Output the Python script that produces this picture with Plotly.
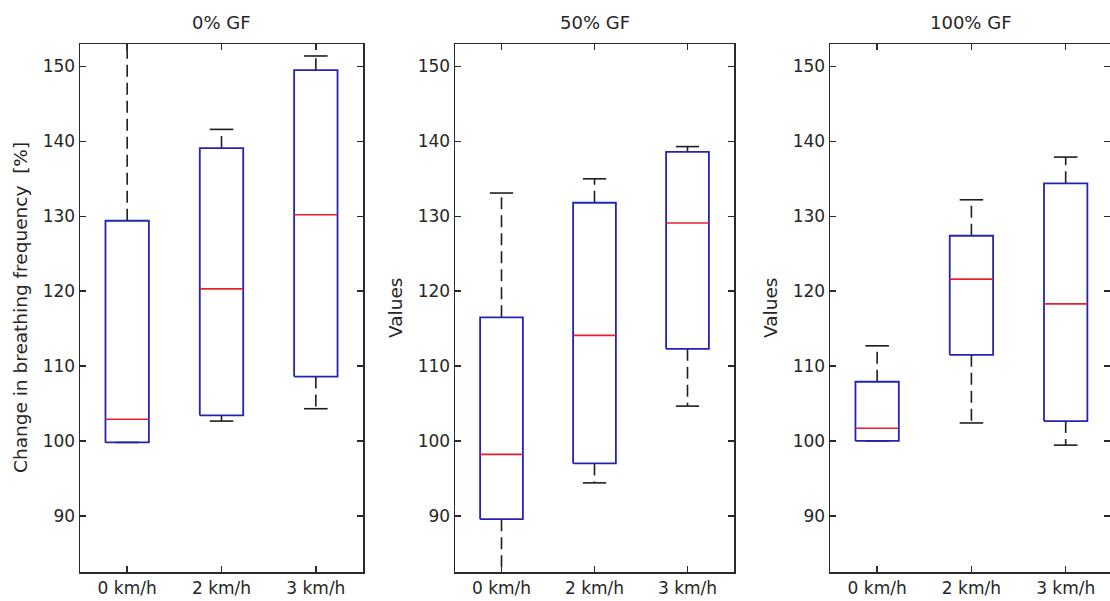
import plotly.graph_objects as go

# ---- data ----
categories = ["0 km/h", "2 km/h", "3 km/h"]
panel_titles = ["0% GF", "50% GF", "100% GF"]
y_titles = ["Change in breathing frequency  [%]", "Values", "Values"]

# 0% GF
gf0_lower = [99.8, 102.65, 104.3]
gf0_q1 = [99.8, 103.4, 108.6]
gf0_median = [102.9, 120.3, 130.2]
gf0_q3 = [129.4, 139.1, 149.5]
gf0_upper = [158.0, 141.6, 151.4]

# 50% GF
gf50_lower = [80.0, 94.4, 104.65]
gf50_q1 = [89.55, 97.0, 112.3]
gf50_median = [98.2, 114.1, 129.1]
gf50_q3 = [116.5, 131.8, 138.6]
gf50_upper = [133.1, 135.0, 139.3]

# 100% GF
gf100_lower = [100.0, 102.4, 99.44]
gf100_q1 = [100.0, 111.5, 102.65]
gf100_median = [101.7, 121.6, 118.3]
gf100_q3 = [107.9, 127.4, 134.4]
gf100_upper = [112.7, 132.2, 137.9]

y_tickvals = [90, 100, 110, 120, 130, 140, 150]

panels = [
    (gf0_lower, gf0_q1, gf0_median, gf0_q3, gf0_upper),
    (gf50_lower, gf50_q1, gf50_median, gf50_q3, gf50_upper),
    (gf100_lower, gf100_q1, gf100_median, gf100_q3, gf100_upper),
]

# ---- styling ----
W, H = 1110, 601
ML, MR, MT, MB = 0, 0, 44, 29
PLOT_H = H - MT - MB
BOX_HW = 0.23
CAP_HW = 0.125
BLUE = "#2424b4"
RED = "#e8202a"
BLACK = "#1e1e1e"
AXIS = "#2a2a2a"
TXT = "#262626"
FONT = "DejaVu Sans"
FS = 17
FS_LABEL = 18.5

domains_px = [(80, 363), (455, 734), (830, 1110)]
x_ranges = [[0.5, 3.5], [0.5, 3.5], [0.5, 3.47]]
y_range = [82.5, 153.0]

fig = go.Figure()

for p, (lo, q1, med, q3, up) in enumerate(panels):
    xa = "x" if p == 0 else f"x{p+1}"
    ya = "y" if p == 0 else f"y{p+1}"
    wx, wy, cx, cy, bx, by, mx, my = [], [], [], [], [], [], [], []
    for i in range(len(categories)):
        x = i + 1
        wx += [x, x, None, x, x, None]
        wy += [q3[i], up[i], None, q1[i], lo[i], None]
        cx += [x - CAP_HW, x + CAP_HW, None, x - CAP_HW, x + CAP_HW, None]
        cy += [up[i], up[i], None, lo[i], lo[i], None]
        bx += [x - BOX_HW, x + BOX_HW, x + BOX_HW, x - BOX_HW, x - BOX_HW, None]
        by += [q1[i], q1[i], q3[i], q3[i], q1[i], None]
        mx += [x - BOX_HW, x + BOX_HW, None]
        my += [med[i], med[i], None]
    fig.add_trace(go.Scatter(x=wx, y=wy, mode="lines", xaxis=xa, yaxis=ya,
                             line=dict(color=BLACK, width=1.6, dash="12px,6px"),
                             hoverinfo="skip", showlegend=False))
    fig.add_trace(go.Scatter(x=cx, y=cy, mode="lines", xaxis=xa, yaxis=ya,
                             line=dict(color=BLACK, width=1.6),
                             hoverinfo="skip", showlegend=False))
    fig.add_trace(go.Scatter(x=bx, y=by, mode="lines", xaxis=xa, yaxis=ya,
                             line=dict(color=BLUE, width=1.8),
                             hoverinfo="skip", showlegend=False))
    fig.add_trace(go.Scatter(x=mx, y=my, mode="lines", xaxis=xa, yaxis=ya,
                             line=dict(color=RED, width=1.6),
                             hoverinfo="skip", showlegend=False))

layout = dict(
    width=W, height=H, autosize=False,
    margin=dict(l=ML, r=MR, t=MT, b=MB, pad=0),
    paper_bgcolor="white", plot_bgcolor="white",
    font=dict(family=FONT, size=FS, color=TXT),
    showlegend=False,
)

for p in range(3):
    d0, d1 = domains_px[p]
    xkey = "xaxis" if p == 0 else f"xaxis{p+1}"
    ykey = "yaxis" if p == 0 else f"yaxis{p+1}"
    yanchor = "y" if p == 0 else f"y{p+1}"
    xanchor = "x" if p == 0 else f"x{p+1}"
    layout[xkey] = dict(
        domain=[d0 / W, d1 / W], anchor=yanchor, range=x_ranges[p],
        tickmode="array", tickvals=[1, 2, 3], ticktext=categories,
        ticks="inside", ticklen=6, tickwidth=1.5, tickcolor=AXIS,
        showline=True, linecolor=AXIS, linewidth=1.5, mirror="ticks",
        showgrid=False, zeroline=False, fixedrange=True,
        tickfont=dict(family=FONT, size=FS, color=TXT),
    )
    layout[ykey] = dict(
        domain=[0, 1], anchor=xanchor, range=y_range,
        tickmode="array", tickvals=y_tickvals,
        ticks="inside", ticklen=6, tickwidth=1.5, tickcolor=AXIS,
        showline=True, linecolor=AXIS, linewidth=1.5,
        mirror=("ticks" if p < 2 else False),
        showgrid=False, zeroline=False, fixedrange=True,
        tickfont=dict(family=FONT, size=FS, color=TXT),
    )

# right-side ticks (no spine) for the cropped third panel
layout["yaxis4"] = dict(
    overlaying="y3", side="right", anchor="x3", range=y_range,
    tickmode="array", tickvals=y_tickvals, showticklabels=False,
    ticks="inside", ticklen=6, tickwidth=1.5, tickcolor=AXIS,
    showline=False, showgrid=False, zeroline=False, fixedrange=True,
)

fig.update_layout(**layout)
fig.add_trace(go.Scatter(x=[None], y=[None], xaxis="x3", yaxis="y4",
                         hoverinfo="skip", showlegend=False))

# titles and y-axis labels
title_y = (H - MB - 23) / PLOT_H
title_cx = [221.5, 594.5, 971.0]
ylabel_x = [20, 395, 770]
for p in range(3):
    fig.add_annotation(text=panel_titles[p], xref="paper", yref="paper",
                       x=title_cx[p] / W, y=title_y, xanchor="center", yanchor="middle",
                       showarrow=False, font=dict(family=FONT, size=18, color=TXT))
    fig.add_annotation(text=y_titles[p], xref="paper", yref="paper",
                       x=ylabel_x[p] / W, y=0.5, xanchor="center", yanchor="middle",
                       textangle=-90, showarrow=False,
                       font=dict(family=FONT, size=FS_LABEL, color=TXT))

fig.write_html(
    "out.html",
    config={"displayModeBar": False, "staticPlot": True},
    post_script="document.body.style.margin='0px';document.body.style.padding='0px';"
                "document.body.style.overflow='hidden';",
)
